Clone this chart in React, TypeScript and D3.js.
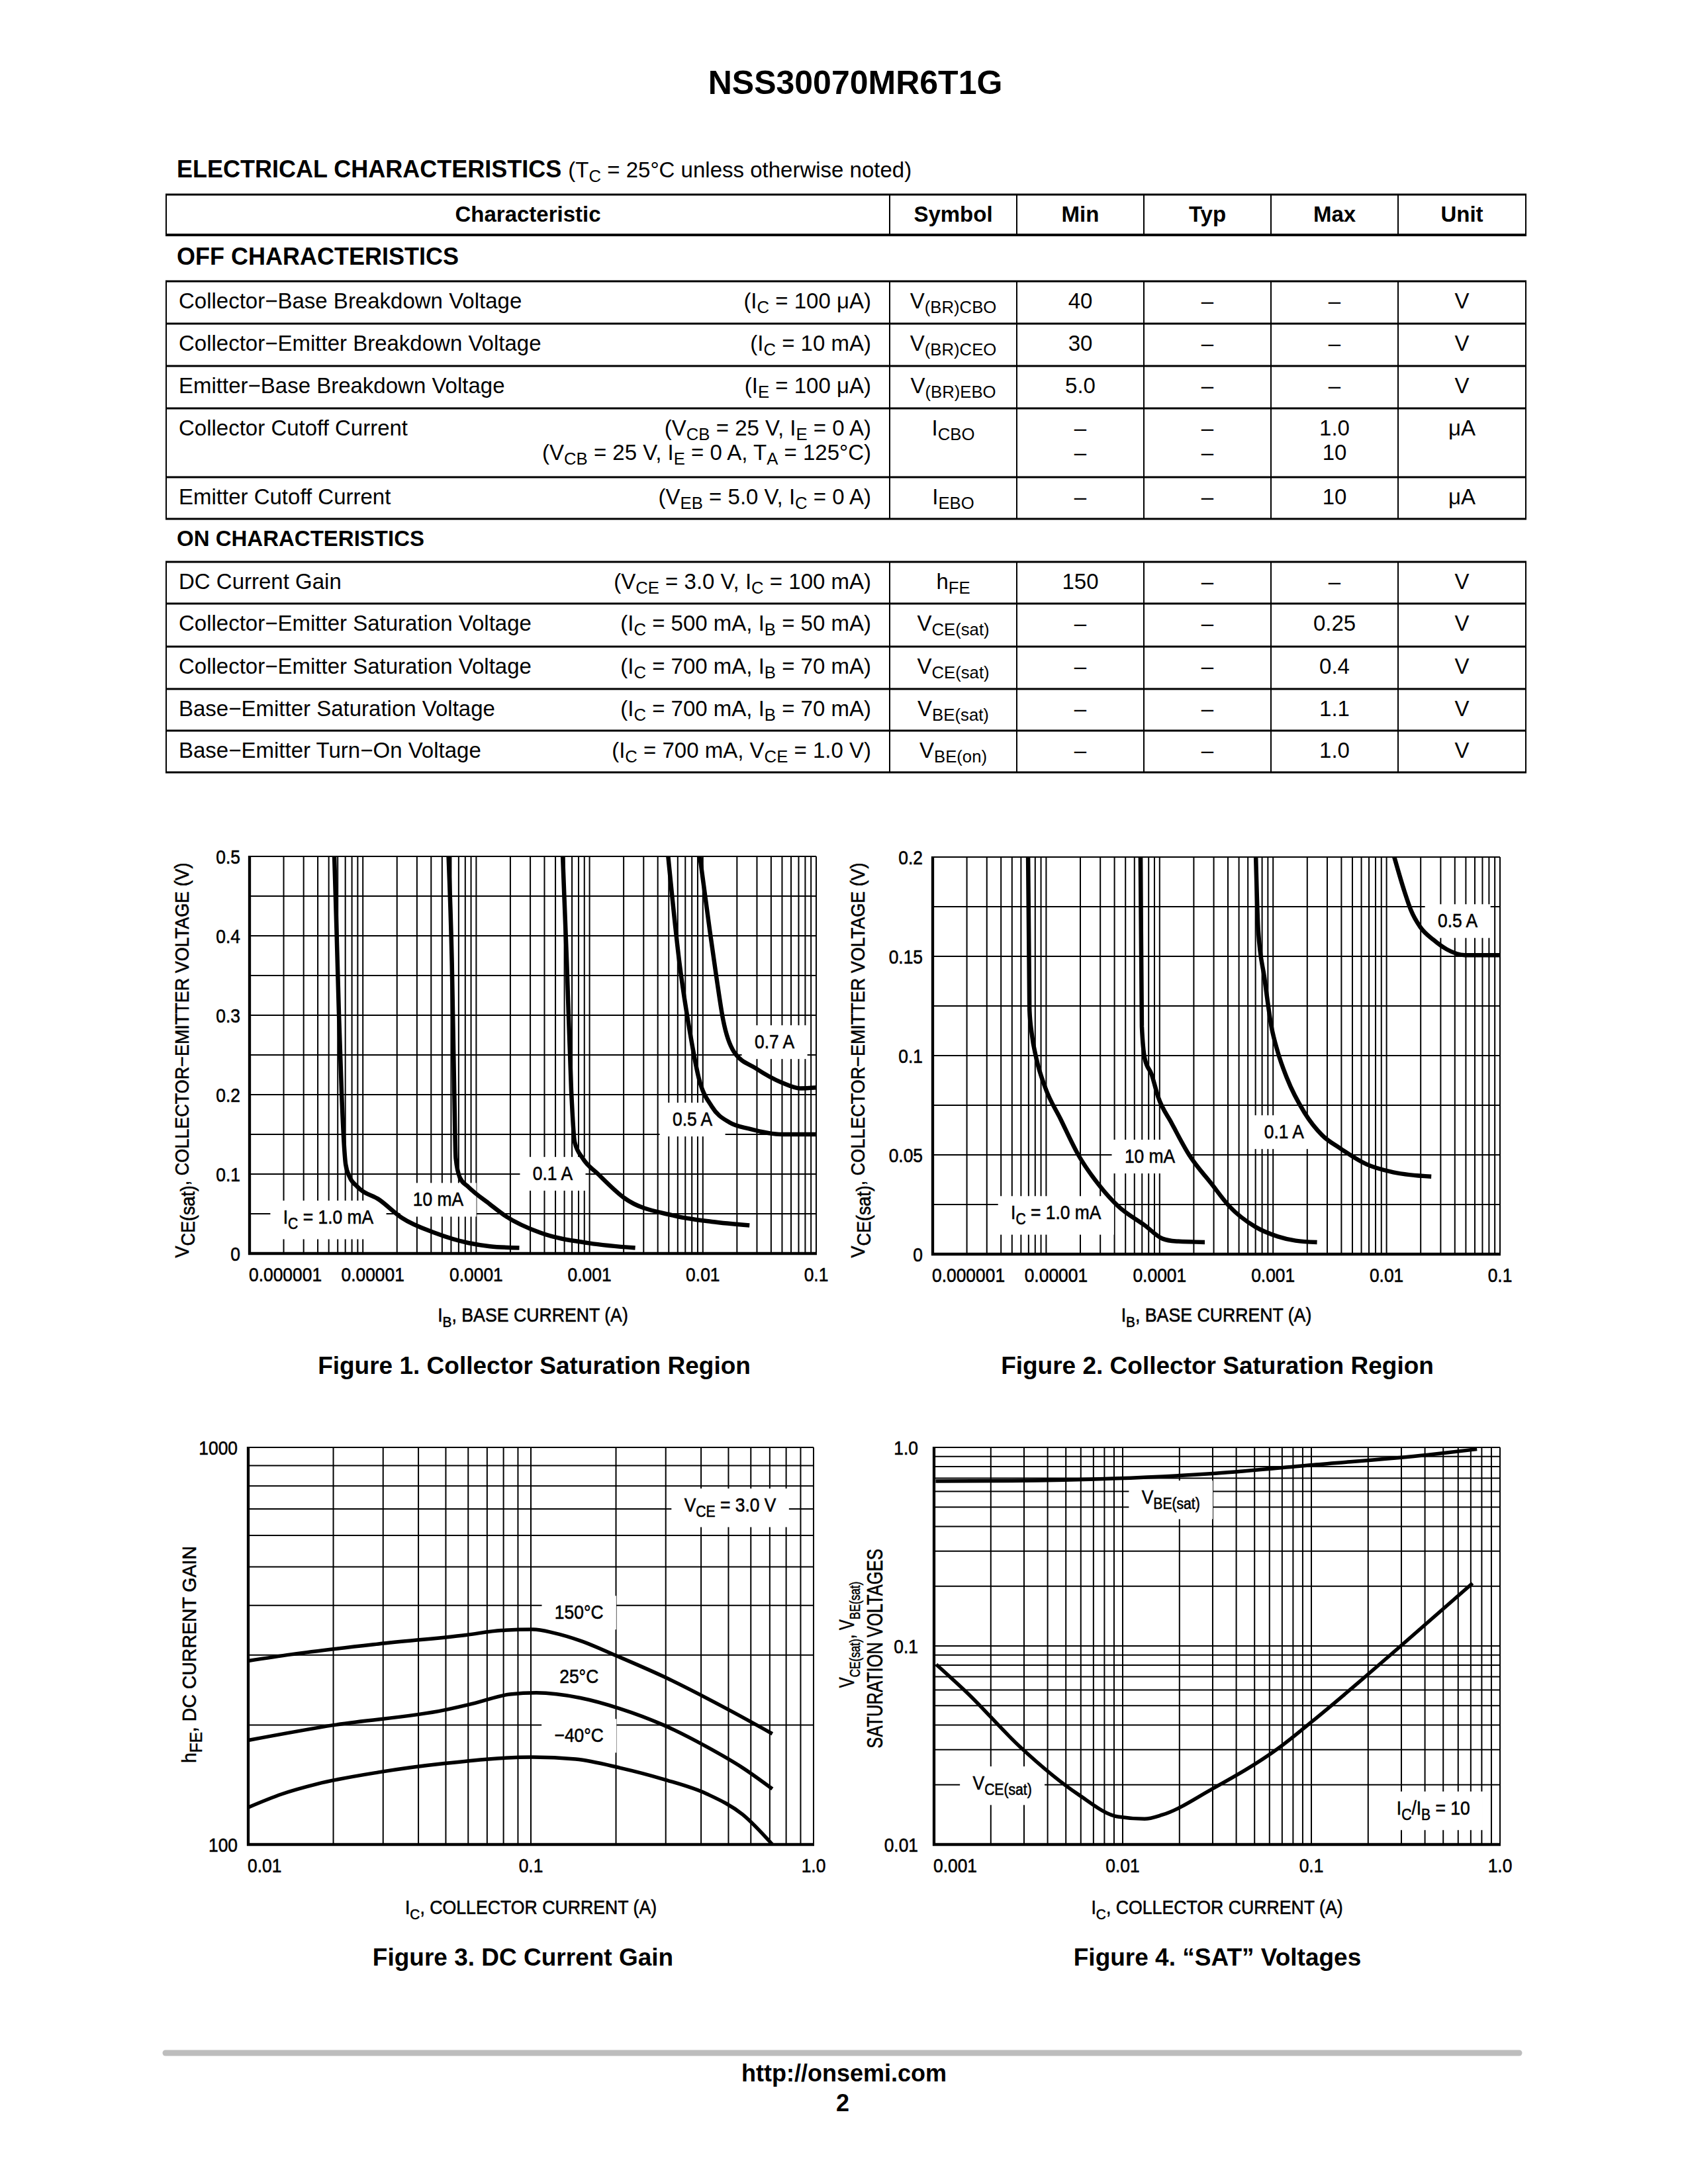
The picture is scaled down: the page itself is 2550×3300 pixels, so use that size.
import { useRef, useEffect } from 'react';
import * as d3 from 'd3';

// ---------- page text ----------
const title = 'NSS30070MR6T1G';
const tableHeaders = ['Characteristic', 'Symbol', 'Min', 'Typ', 'Max', 'Unit'];

// OFF characteristics
const offNames = [
  'Collector−Base Breakdown Voltage',
  'Collector−Emitter Breakdown Voltage',
  'Emitter−Base Breakdown Voltage',
  'Collector Cutoff Current',
  'Emitter Cutoff Current',
];
const offConds = [
  ['(I_{C} = 100 μA)'],
  ['(I_{C} = 10 mA)'],
  ['(I_{E} = 100 μA)'],
  ['(V_{CB} = 25 V, I_{E} = 0 A)', '(V_{CB} = 25 V, I_{E} = 0 A, T_{A} = 125°C)'],
  ['(V_{EB} = 5.0 V, I_{C} = 0 A)'],
];
const offSymbols = ['V_{(BR)CBO}', 'V_{(BR)CEO}', 'V_{(BR)EBO}', 'I_{CBO}', 'I_{EBO}'];
const offMin = [['40'], ['30'], ['5.0'], ['–', '–'], ['–']];
const offTyp = [['–'], ['–'], ['–'], ['–', '–'], ['–']];
const offMax = [['–'], ['–'], ['–'], ['1.0', '10'], ['10']];
const offUnit = ['V', 'V', 'V', 'μA', 'μA'];

// ON characteristics
const onNames = [
  'DC Current Gain',
  'Collector−Emitter Saturation Voltage',
  'Collector−Emitter Saturation Voltage',
  'Base−Emitter Saturation Voltage',
  'Base−Emitter Turn−On Voltage',
];
const onConds = [
  ['(V_{CE} = 3.0 V, I_{C} = 100 mA)'],
  ['(I_{C} = 500 mA, I_{B} = 50 mA)'],
  ['(I_{C} = 700 mA, I_{B} = 70 mA)'],
  ['(I_{C} = 700 mA, I_{B} = 70 mA)'],
  ['(I_{C} = 700 mA, V_{CE} = 1.0 V)'],
];
const onSymbols = ['h_{FE}', 'V_{CE(sat)}', 'V_{CE(sat)}', 'V_{BE(sat)}', 'V_{BE(on)}'];
const onMin = [['150'], ['–'], ['–'], ['–'], ['–']];
const onTyp = [['–'], ['–'], ['–'], ['–'], ['–']];
const onMax = [['–'], ['0.25'], ['0.4'], ['1.1'], ['1.0']];
const onUnit = ['V', 'V', 'V', 'V', 'V'];

// ---------- chart data ----------
type Pt = [number, number];

const satTicksX = [1e-6, 1e-5, 1e-4, 1e-3, 1e-2, 1e-1];
const satTickLabelsX = ['0.000001', '0.00001', '0.0001', '0.001', '0.01', '0.1'];

// Figure 1 (IB, VCE(sat))
const f1Ticks = [0, 0.1, 0.2, 0.3, 0.4, 0.5];
const f1TickLabels = ['0', '0.1', '0.2', '0.3', '0.4', '0.5'];
const f1Ic1mA: Pt[] = [[5.6e-6, 0.5], [5.85e-6, 0.41], [6.15e-6, 0.3], [6.5e-6, 0.2], [6.8e-6, 0.14], [7.05e-6, 0.112], [7.6e-6, 0.097], [8.95e-6, 0.084], [1.4e-5, 0.0675], [2.2e-5, 0.045], [4.3e-5, 0.026], [8.5e-5, 0.0133], [1.32e-4, 0.009], [2.4e-4, 0.007]];
const f1Ic10mA: Pt[] = [[5.7e-5, 0.5], [6.1e-5, 0.367], [6.4e-5, 0.205], [6.6e-5, 0.12], [7.2e-5, 0.095], [8.5e-5, 0.084], [1.32e-4, 0.062], [1.82e-4, 0.047], [3.7e-4, 0.026], [9.9e-4, 0.013], [2.53e-3, 0.007]];
const f1Ic100mA: Pt[] = [[5.8e-4, 0.5], [6.3e-4, 0.367], [6.9e-4, 0.205], [7.4e-4, 0.14], [8.7e-4, 0.12], [1.19e-3, 0.1], [2.02e-3, 0.07], [5.4e-3, 0.048], [1.2e-2, 0.04], [2.58e-2, 0.0355]];
const f1Ic500mA: Pt[] = [[4.94e-3, 0.5], [6.2e-3, 0.367], [7.7e-3, 0.278], [9.2e-3, 0.221], [1.2e-2, 0.185], [1.72e-2, 0.165], [2.58e-2, 0.157], [5.0e-2, 0.15], [0.1, 0.15]];
const f1Ic700mA: Pt[] = [[9.4e-3, 0.5], [1.15e-2, 0.407], [1.32e-2, 0.347], [1.51e-2, 0.294], [1.88e-2, 0.254], [2.94e-2, 0.233], [5.0e-2, 0.215], [7.2e-2, 0.208], [0.1, 0.209]];
const f1Notes = ['0.7 A', '0.5 A', '0.1 A', '10 mA', 'I_{C} = 1.0 mA'];
const f1NoteAt: Pt[] = [[0.0429, 0.2675], [8.09e-3, 0.17], [4.73e-4, 0.1017], [4.62e-5, 0.069], [4.95e-6, 0.0467]];

// Figure 2 (zoomed VCE(sat))
const f2Ticks = [0, 0.05, 0.1, 0.15, 0.2];
const f2TickLabels = ['0', '0.05', '0.1', '0.15', '0.2'];
const f2Ic1mA: Pt[] = [[6.93e-6, 0.2], [7.13e-6, 0.123], [7.45e-6, 0.1115], [8.2e-6, 0.0985], [9.8e-6, 0.084], [1.34e-5, 0.068], [1.92e-5, 0.05], [3.0e-5, 0.034], [4.3e-5, 0.0242], [7.4e-5, 0.0145], [1.06e-4, 0.0078], [1.39e-4, 0.0065], [2.5e-4, 0.006]];
const f2Ic10mA: Pt[] = [[6.78e-5, 0.2], [6.97e-5, 0.1147], [7.4e-5, 0.0985], [8.5e-5, 0.0905], [9.7e-5, 0.0792], [1.27e-4, 0.0662], [1.82e-4, 0.05], [2.86e-4, 0.0355], [4.1e-4, 0.0242], [7.0e-4, 0.0137], [1.1e-3, 0.0089], [1.58e-3, 0.0068], [2.44e-3, 0.006]];
const f2Ic100mA: Pt[] = [[7.05e-4, 0.2], [7.4e-4, 0.163], [8.4e-4, 0.139], [9.66e-4, 0.1147], [1.1e-3, 0.1018], [1.32e-3, 0.0889], [1.9e-3, 0.0711], [2.72e-3, 0.0598], [3.9e-3, 0.0533], [6.7e-3, 0.0452], [1.15e-2, 0.0412], [2.48e-2, 0.0391]];
const f2Ic500mA: Pt[] = [[1.17e-2, 0.2], [1.44e-2, 0.1826], [1.65e-2, 0.1729], [1.98e-2, 0.1648], [2.59e-2, 0.1583], [3.4e-2, 0.1535], [4.9e-2, 0.1506], [0.1, 0.1506]];
const f2Notes = ['0.5 A', '0.1 A', '10 mA', 'I_{C} = 1.0 mA'];
const f2NoteAt: Pt[] = [[0.0424, 0.1683], [1.25e-3, 0.062], [8.2e-5, 0.0497], [1.22e-5, 0.0213]];

// Figure 3 (IC, hFE)
const f3TicksX = [0.01, 0.1, 1];
const f3TickLabelsX = ['0.01', '0.1', '1.0'];
const f3TicksY = [100, 1000];
const f3TickLabelsY = ['100', '1000'];
const hfe150: Pt[] = [[0.01, 290], [0.01415, 301], [0.0289, 320], [0.059, 337], [0.0786, 346], [0.1016, 348], [0.1206, 341], [0.1495, 326], [0.2023, 298], [0.294, 265], [0.503, 218], [0.715, 190]];
const hfe25: Pt[] = [[0.01, 183], [0.0202, 200], [0.0494, 218], [0.0634, 227], [0.0843, 239], [0.1045, 241], [0.1495, 234], [0.206, 220], [0.294, 200], [0.42, 176], [0.561, 156], [0.715, 138]];
const hfeM40: Pt[] = [[0.01, 124], [0.01316, 134], [0.0175, 142], [0.0289, 152], [0.0494, 160], [0.1016, 166], [0.144, 164], [0.206, 156], [0.294, 146], [0.42, 134], [0.561, 119], [0.715, 100]];
const f3Notes = ['V_{CE} = 3.0 V', '150°C', '25°C', '−40°C'];
const f3NoteAt: Pt[] = [[0.507, 719], [0.148, 386], [0.148, 266], [0.148, 189]];

// Figure 4 (IC, saturation voltages)
const f4TicksX = [0.001, 0.01, 0.1, 1];
const f4TickLabelsX = ['0.001', '0.01', '0.1', '1.0'];
const f4TicksY = [0.01, 0.1, 1];
const f4TickLabelsY = ['0.01', '0.1', '1.0'];
const vbeSat: Pt[] = [[0.00102, 0.676], [0.00258, 0.679], [0.00894, 0.697], [0.031, 0.74], [0.102, 0.816], [0.416, 0.917], [0.755, 0.98]];
const vceSat: Pt[] = [[0.001027, 0.0807], [0.0015, 0.058], [0.00287, 0.0309], [0.0058, 0.0179], [0.00944, 0.0138], [0.01305, 0.01346], [0.0162, 0.0141], [0.0294, 0.0189], [0.0662, 0.0303], [0.1136, 0.0457], [0.285, 0.0964], [0.715, 0.207]];
const f4Notes = ['V_{BE(sat)}', 'V_{CE(sat)}', 'I_{C}/I_{B} = 10'];
const f4NoteAt: Pt[] = [[0.018, 0.567], [2.3e-3, 0.0206], [0.443, 0.0154]];

// ---------- layout ----------
const W = 2550;
const H = 3300;
const FONT = "'Liberation Sans', Arial, Helvetica, sans-serif";
const NARROW = 0.88;
const INK = 0.6; // slight stroke so the narrowed chart lettering reads as heavy as the print
const colX = [251, 1344, 1536, 1728, 1920, 2112, 2305];
const offLines = [425, 489, 553, 617, 721, 784];
const onLines = [849, 912, 977, 1041, 1104, 1167];

type Sel = d3.Selection<any, unknown, null, undefined>;

function rich(t: Sel, s: string, size: number, subScale = 0.78, subDrop = 0.28) {
  const parts = s.split(/(_\{[^}]*\})/).filter((p) => p.length);
  let down = false;
  for (const p of parts) {
    if (p.startsWith('_{')) {
      t.append('tspan')
        .attr('font-size', size * subScale)
        .attr('dy', down ? 0 : size * subDrop)
        .text(p.slice(2, -1));
      down = true;
    } else {
      const ts = t.append('tspan').attr('font-size', size).text(p);
      if (down) ts.attr('dy', -size * subDrop);
      down = false;
    }
  }
  return t;
}

interface TextOpts {
  size: number;
  anchor?: string;
  weight?: string;
  narrow?: number;
  rotate?: boolean;
  subScale?: number;
  subDrop?: number;
  ink?: number;
}

function putText(parent: Sel, x: number, y: number, s: string, o: TextOpts) {
  const g = parent
    .append('g')
    .attr(
      'transform',
      `translate(${x},${y})${o.rotate ? ' rotate(-90)' : ''}${o.narrow ? ` scale(${o.narrow},1)` : ''}`,
    );
  const t = g
    .append('text')
    .attr('text-anchor', o.anchor ?? 'start')
    .attr('font-family', FONT)
    .attr('font-size', o.size)
    .attr('font-weight', o.weight ?? 'normal')
    .attr('fill', '#000')
    .style('white-space', 'pre');
  if (o.ink) t.attr('stroke', '#000').attr('stroke-width', o.ink);
  rich(t, s, o.size, o.subScale ?? 0.78, o.subDrop ?? 0.28);
  return { g, t };
}

function line(p: Sel, x1: number, y1: number, x2: number, y2: number, w: number, color = '#000') {
  p.append('line').attr('x1', x1).attr('y1', y1).attr('x2', x2).attr('y2', y2).attr('stroke', color).attr('stroke-width', w);
}

function drawTableSection(
  svg: Sel,
  lines: number[],
  names: string[],
  conds: string[][],
  syms: string[],
  mins: string[][],
  typs: string[][],
  maxs: string[][],
  units: string[],
) {
  const g = svg.append('g');
  lines.forEach((y) => line(g, colX[0] - 1, y, colX[6] + 1, y, 3));
  colX.forEach((x) => line(g, x, lines[0], x, lines[lines.length - 1], 2));
  const fs = 33;
  const lh = 37;
  const sub = { subScale: 0.78, subDrop: 0.22 };
  names.forEach((name, i) => {
    const base = lines[i] + 41;
    putText(g, 270, base, name, { size: fs });
    conds[i].forEach((c, j) => putText(g, 1316, base + j * lh, c, { size: fs, anchor: 'end', ...sub }));
    putText(g, (colX[1] + colX[2]) / 2, base, syms[i], { size: fs, anchor: 'middle', ...sub });
    [mins[i], typs[i], maxs[i]].forEach((vals, k) =>
      vals.forEach((v, j) =>
        putText(g, (colX[2 + k] + colX[3 + k]) / 2, base + j * lh, v, { size: fs, anchor: 'middle' }),
      ),
    );
    putText(g, (colX[5] + colX[6]) / 2, base, units[i], { size: fs, anchor: 'middle' });
  });
}

interface YTitle {
  text: string;
  x: number;
  cy: number;
  size: number;
  narrow: number;
  subScale: number;
}

interface Chart {
  box: [number, number, number, number];
  xDomain: [number, number];
  yDomain: [number, number];
  yLog: boolean;
  yStep?: number;
  xTicks: number[];
  xTickLabels: string[];
  yTicks: number[];
  yTickLabels: string[];
  yGap: number;
  series: Pt[][];
  stroke: number;
  notes: string[];
  noteAt: Pt[];
  xTitle: string;
  xTitleY: number;
  yTitles: YTitle[];
  caption: string;
  captionX: number;
  captionY: number;
}

function drawChart(svg: Sel, c: Chart) {
  const [l, t, r, b] = c.box;
  const x = d3.scaleLog().domain(c.xDomain).range([l, r]);
  const y = c.yLog ? d3.scaleLog().domain(c.yDomain).range([b, t]) : d3.scaleLinear().domain(c.yDomain).range([b, t]);
  const g = svg.append('g');

  // grid
  const grid = g.append('g');
  x.ticks().forEach((v) => line(grid, x(v), t, x(v), b, 2));
  const yGrid = c.yLog
    ? (y as d3.ScaleLogarithmic<number, number>).ticks()
    : d3.range(c.yDomain[0], c.yDomain[1] + c.yStep! / 2, c.yStep!);
  yGrid.forEach((v) => line(grid, l, y(v), r, y(v), 2));
  line(grid, l, t - 1, l, b + 2, 4.3);
  line(grid, l - 2, b, r + 1, b, 4.3);

  // tick labels
  const ts = 30;
  c.yTicks.forEach((v, i) =>
    putText(g, l - c.yGap, y(v) + ts * 0.36, c.yTickLabels[i], { size: ts, anchor: 'end', narrow: NARROW, ink: INK }),
  );
  c.xTicks.forEach((v, i) => {
    const first = i === 0;
    const dx = i === 1 && c.xTicks.length > 4 ? 15 : 0;
    putText(g, first ? l - 1 : x(v) + dx, b + 42, c.xTickLabels[i], {
      size: ts,
      anchor: first ? 'start' : 'middle',
      narrow: NARROW,
      ink: INK,
    });
  });

  // axis titles
  putText(g, (l + r) / 2, c.xTitleY, c.xTitle, { size: 29, anchor: 'middle', narrow: 0.92, ink: INK });
  c.yTitles.forEach((yt) =>
    putText(g, yt.x, yt.cy, yt.text, {
      size: yt.size,
      anchor: 'middle',
      narrow: yt.narrow,
      rotate: true,
      subScale: yt.subScale,
      subDrop: 0.3,
      ink: INK,
    }),
  );

  // notes with white boxes
  c.notes.forEach((n, i) => {
    const [nx, ny] = c.noteAt[i];
    const { g: ng, t: nt } = putText(g, x(nx), y(ny) + ts * 0.36, n, {
      size: ts,
      anchor: 'middle',
      narrow: NARROW,
      subScale: 0.8,
      ink: INK,
    });
    const bb = (nt.node() as SVGTextElement).getBBox();
    ng.insert('rect', 'text')
      .attr('x', bb.x - 22)
      .attr('y', bb.y - 7)
      .attr('width', bb.width + 44)
      .attr('height', bb.height + 17)
      .attr('fill', '#fff');
  });

  // curves
  const gen = d3
    .line<Pt>()
    .x((d) => x(d[0]))
    .y((d) => y(d[1]))
    .curve(d3.curveMonotoneX);
  c.series.forEach((s) =>
    g.append('path').datum(s).attr('d', gen).attr('fill', 'none').attr('stroke', '#000').attr('stroke-width', c.stroke),
  );

  putText(svg, c.captionX, c.captionY, c.caption, { size: 37, anchor: 'middle', weight: 'bold' });
}

const satTitle = 'V_{CE(sat)}, COLLECTOR−EMITTER VOLTAGE (V)';

const charts: Chart[] = [
  {
    box: [377, 1294, 1233, 1894],
    xDomain: [1e-6, 0.1],
    yDomain: [0, 0.5],
    yLog: false,
    yStep: 0.05,
    xTicks: satTicksX,
    xTickLabels: satTickLabelsX,
    yTicks: f1Ticks,
    yTickLabels: f1TickLabels,
    yGap: 14,
    series: [f1Ic1mA, f1Ic10mA, f1Ic100mA, f1Ic500mA, f1Ic700mA],
    stroke: 6.5,
    notes: f1Notes,
    noteAt: f1NoteAt,
    xTitle: 'I_{B}, BASE CURRENT (A)',
    xTitleY: 1997,
    yTitles: [{ text: satTitle, x: 285, cy: 1602, size: 29, narrow: 0.93, subScale: 1 }],
    caption: 'Figure 1. Collector Saturation Region',
    captionX: 807,
    captionY: 2076,
  },
  {
    box: [1409, 1295, 2266, 1895],
    xDomain: [1e-6, 0.1],
    yDomain: [0, 0.2],
    yLog: false,
    yStep: 0.025,
    xTicks: satTicksX,
    xTickLabels: satTickLabelsX,
    yTicks: f2Ticks,
    yTickLabels: f2TickLabels,
    yGap: 15,
    series: [f2Ic1mA, f2Ic10mA, f2Ic100mA, f2Ic500mA],
    stroke: 6.5,
    notes: f2Notes,
    noteAt: f2NoteAt,
    xTitle: 'I_{B}, BASE CURRENT (A)',
    xTitleY: 1997,
    yTitles: [{ text: satTitle, x: 1306, cy: 1602, size: 29, narrow: 0.93, subScale: 1 }],
    caption: 'Figure 2. Collector Saturation Region',
    captionX: 1839,
    captionY: 2076,
  },
  {
    box: [375, 2187, 1229, 2787],
    xDomain: [0.01, 1],
    yDomain: [100, 1000],
    yLog: true,
    xTicks: f3TicksX,
    xTickLabels: f3TickLabelsX,
    yTicks: f3TicksY,
    yTickLabels: f3TickLabelsY,
    yGap: 16,
    series: [hfe150, hfe25, hfeM40],
    stroke: 5.5,
    notes: f3Notes,
    noteAt: f3NoteAt,
    xTitle: 'I_{C}, COLLECTOR CURRENT (A)',
    xTitleY: 2892,
    yTitles: [{ text: 'h_{FE}, DC CURRENT GAIN', x: 296, cy: 2500, size: 30, narrow: 0.95, subScale: 0.85 }],
    caption: 'Figure 3. DC Current Gain',
    captionX: 790,
    captionY: 2970,
  },
  {
    box: [1411, 2187, 2266, 2787],
    xDomain: [0.001, 1],
    yDomain: [0.01, 1],
    yLog: true,
    xTicks: f4TicksX,
    xTickLabels: f4TickLabelsX,
    yTicks: f4TicksY,
    yTickLabels: f4TickLabelsY,
    yGap: 24,
    series: [vbeSat, vceSat],
    stroke: 5.5,
    notes: f4Notes,
    noteAt: f4NoteAt,
    xTitle: 'I_{C}, COLLECTOR CURRENT (A)',
    xTitleY: 2892,
    yTitles: [
      { text: 'V_{CE(sat)}, V_{BE(sat)}', x: 1290, cy: 2470, size: 31, narrow: 0.77, subScale: 0.72 },
      { text: 'SATURATION VOLTAGES', x: 1333, cy: 2491, size: 34, narrow: 0.75, subScale: 1 },
    ],
    caption: 'Figure 4. “SAT” Voltages',
    captionX: 1839,
    captionY: 2970,
  },
];

export default function App() {
  const ref = useRef<SVGSVGElement>(null);

  useEffect(() => {
    if (!ref.current) return;
    const svg = d3.select(ref.current) as Sel;
    svg.selectAll('*').remove();
    svg.append('rect').attr('width', W).attr('height', H).attr('fill', '#fff');

    // header
    putText(svg, 1292, 142, title, { size: 50, anchor: 'middle', weight: 'bold' });
    const ec = svg
      .append('text')
      .attr('x', 267)
      .attr('y', 268)
      .attr('font-family', FONT)
      .style('white-space', 'pre');
    ec.append('tspan').attr('font-weight', 'bold').attr('font-size', 36).text('ELECTRICAL CHARACTERISTICS ');
    rich(ec, '(T_{C} = 25°C unless otherwise noted)', 33, 0.78, 0.22);

    // column header row
    line(svg, colX[0] - 1, 294, colX[6] + 1, 294, 3);
    line(svg, colX[0] - 1, 355, colX[6] + 1, 355, 4);
    colX.forEach((x) => line(svg, x, 294, x, 355, 2));
    tableHeaders.forEach((h, i) =>
      putText(svg, (colX[i] + colX[i + 1]) / 2, 335, h, { size: 33, anchor: 'middle', weight: 'bold' }),
    );

    putText(svg, 267, 400, 'OFF CHARACTERISTICS', { size: 36, weight: 'bold' });
    drawTableSection(svg, offLines, offNames, offConds, offSymbols, offMin, offTyp, offMax, offUnit);
    putText(svg, 267, 825, 'ON CHARACTERISTICS', { size: 33, weight: 'bold' });
    drawTableSection(svg, onLines, onNames, onConds, onSymbols, onMin, onTyp, onMax, onUnit);

    charts.forEach((c) => drawChart(svg, c));

    // footer
    svg
      .append('line')
      .attr('x1', 250)
      .attr('x2', 2295)
      .attr('y1', 3102)
      .attr('y2', 3102)
      .attr('stroke', '#bdbdbd')
      .attr('stroke-width', 9)
      .attr('stroke-linecap', 'round');
    putText(svg, 1275, 3145, 'http://onsemi.com', { size: 36, anchor: 'middle', weight: 'bold' });
    putText(svg, 1273, 3190, '2', { size: 36, anchor: 'middle', weight: 'bold' });
  }, []);

  return (
    <svg
      ref={ref}
      width={W}
      height={H}
      viewBox={`0 0 ${W} ${H}`}
      style={{ position: 'absolute', left: 0, top: 0, background: '#fff' }}
    />
  );
}
